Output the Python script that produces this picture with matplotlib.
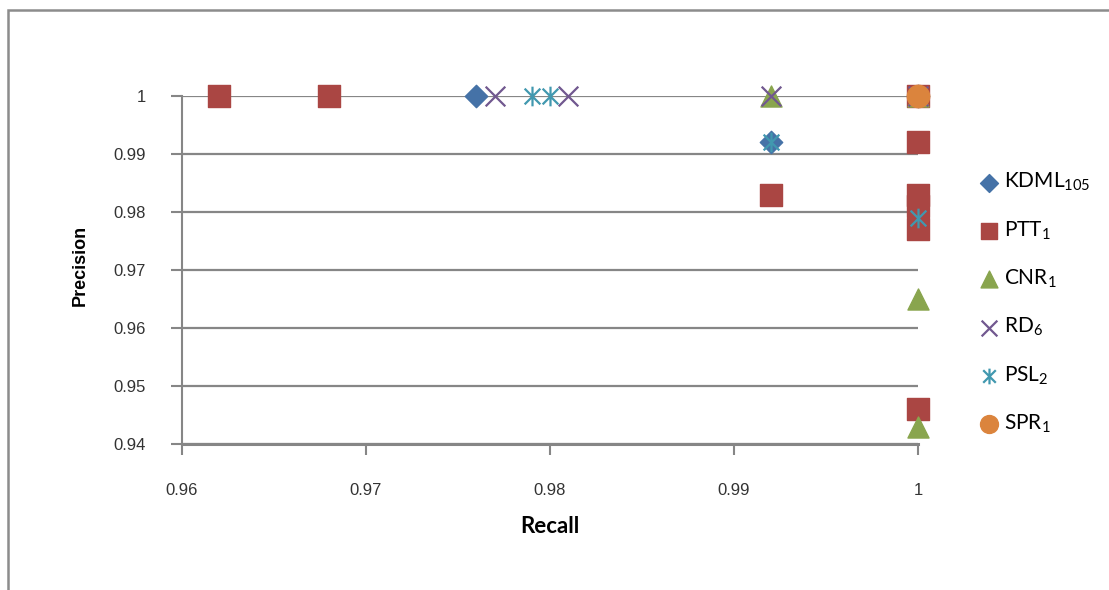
import numpy as np
import matplotlib
matplotlib.use('Agg')
import matplotlib.pyplot as plt
from matplotlib.path import Path
from matplotlib.patches import Rectangle
from matplotlib.ticker import FuncFormatter

plt.rcParams['mathtext.fontset'] = 'custom'
plt.rcParams['mathtext.rm'] = 'Lato'
plt.rcParams['mathtext.it'] = 'Lato'

# recall / precision per method
kdml_recall = [0.976, 0.992, 1.0]
kdml_precision = [1.0, 0.992, 1.0]

ptt_recall = [0.962, 0.968, 0.992, 1.0, 1.0, 1.0, 1.0, 1.0, 1.0]
ptt_precision = [1.0, 1.0, 0.983, 1.0, 0.992, 0.983, 0.981, 0.977, 0.946]

cnr_recall = [0.992, 1.0, 1.0, 1.0]
cnr_precision = [1.0, 1.0, 0.965, 0.943]

rd_recall = [0.977, 0.981, 0.992, 1.0]
rd_precision = [1.0, 1.0, 1.0, 1.0]

psl_recall = [0.979, 0.980, 0.992, 1.0, 1.0]
psl_precision = [1.0, 1.0, 0.992, 0.979, 1.0]

spr_recall = [1.0]
spr_precision = [1.0]

labels = ['KDML$_{105}$', 'PTT$_{1}$', 'CNR$_{1}$', 'RD$_{6}$', 'PSL$_{2}$', 'SPR$_{1}$']
x_ticks = [0.96, 0.97, 0.98, 0.99, 1.0]
y_ticks = [0.94, 0.95, 0.96, 0.97, 0.98, 0.99, 1.0]

# excel style "star": vertical bar plus an X
star = Path([(0, -1), (0, 1), (-0.8, -0.8), (0.8, 0.8), (-0.8, 0.8), (0.8, -0.8)],
            [Path.MOVETO, Path.LINETO, Path.MOVETO, Path.LINETO, Path.MOVETO, Path.LINETO])

series = [
    (kdml_recall, kdml_precision, dict(marker='D', color='#4572A7', s=130)),
    (ptt_recall, ptt_precision, dict(marker='s', color='#AA4643', s=230)),
    (cnr_recall, cnr_precision, dict(marker='^', color='#89A54E', s=230)),
    (rd_recall, rd_precision, dict(marker='x', color='#71588F', s=200, linewidths=1.6)),
    (psl_recall, psl_precision, dict(marker=star, color='#4198AF', s=200, linewidths=1.6)),
    (spr_recall, spr_precision, dict(marker='o', color='#DB843D', s=260)),
]

fig = plt.figure(figsize=(11.09, 5.90), dpi=100)
ax = fig.add_axes([182 / 1109, 146 / 590, 736 / 1109, 348 / 590])

gray = '#868686'
handles = []
for i, (xs, ys, kw) in enumerate(series):
    h = ax.scatter(xs, ys, label=labels[i], clip_on=False, zorder=3 + i, **kw)
    handles.append(h)

ax.set_xlim(0.96, 1.0)
ax.set_ylim(0.94, 1.0)
ax.set_xticks(x_ticks)
ax.set_yticks(y_ticks)
fmt = FuncFormatter(lambda v, p: f'{v:g}')
ax.xaxis.set_major_formatter(fmt)
ax.yaxis.set_major_formatter(fmt)

ax.yaxis.grid(True, color=gray, linewidth=1.6)
ax.set_axisbelow(True)
for side in ['top', 'right']:
    ax.spines[side].set_visible(False)
ax.spines['left'].set_color(gray)
ax.spines['left'].set_linewidth(1.5)
ax.spines['bottom'].set_color(gray)
ax.spines['bottom'].set_linewidth(2.2)
ax.tick_params(axis='both', colors=gray, length=8, width=1.5, labelcolor='#333333',
               labelsize=12)
ax.tick_params(axis='x', pad=20)
ax.tick_params(axis='y', pad=18)
for t in ax.get_xticklabels() + ax.get_yticklabels():
    t.set_family(['Liberation Sans', 'DejaVu Sans'])

ax.set_xlabel('Recall', family=['Lato', 'DejaVu Sans'], fontweight='bold', fontsize=16,
              labelpad=13)
fig.text(80 / 1109, (590 - 265) / 590, 'Precision', rotation=90, ha='center', va='center',
         family=['Liberation Sans Narrow', 'Liberation Sans', 'DejaVu Sans'],
         fontweight='bold', fontsize=13)

leg = fig.legend(handles=handles, labels=labels, loc='center left',
                 bbox_to_anchor=(968 / 1109, (590 - 303) / 590), frameon=False,
                 prop={'family': 'Lato', 'size': 15}, labelspacing=1.25, markerscale=0.8,
                 handlelength=1.0, handletextpad=0.25, borderpad=0, scatterpoints=1)

# outer chart frame
fig.add_artist(Rectangle((8 / 1109, -0.1), 1.2, 0.1 + (590 - 10) / 590,
                         transform=fig.transFigure, fill=False, edgecolor='#8c8c8c',
                         linewidth=1.8, clip_on=False))

fig.savefig('out.png', dpi=100)
